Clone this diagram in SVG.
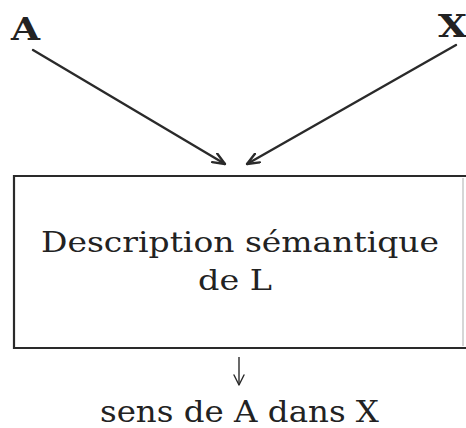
<svg xmlns="http://www.w3.org/2000/svg" width="466" height="428" viewBox="0 0 466 428">
<style>
.t{font-family:"DejaVu Serif","Liberation Serif",serif;fill:#222}
.b{font-weight:bold}
.c{stroke:#2a2a2a;stroke-width:2.4;fill:none;stroke-linecap:round}
.box{stroke:#2a2a2a;stroke-width:2.2;fill:none}
</style>
<defs>
<marker id="ah" viewBox="0 0 14 12" refX="13" refY="6" markerWidth="14" markerHeight="12" markerUnits="userSpaceOnUse" orient="auto">
<path d="M1,1 L13,6 L1,11" fill="none" stroke="#2a2a2a" stroke-width="2.4" stroke-linecap="round" stroke-linejoin="round"/>
</marker>
<marker id="ahs" viewBox="0 0 12 12" refX="11" refY="6" markerWidth="12" markerHeight="12" markerUnits="userSpaceOnUse" orient="auto">
<path d="M1,1 L11,6 L1,11" fill="none" stroke="#2a2a2a" stroke-width="1.4" stroke-linecap="round" stroke-linejoin="round"/>
</marker>
</defs>
<rect width="466" height="428" fill="#fff"/>
<g id="nodeA"><text class="t b" x="11" y="40" font-size="31" textLength="29" lengthAdjust="spacingAndGlyphs">A</text></g>
<g id="nodeX"><text class="t b" x="438" y="37" font-size="31" textLength="29" lengthAdjust="spacingAndGlyphs">X</text></g>
<g id="nodeDesc">
<path class="box" d="M466,176 L14,176 L14,348 L466,348"/>
<path d="M463,178 L463,346" stroke="#bbb" stroke-width="1.2" fill="none"/>
<text class="t" x="41" y="252" font-size="28" textLength="398" lengthAdjust="spacingAndGlyphs">Description sémantique</text>
<text class="t" x="198" y="290" font-size="28" textLength="74" lengthAdjust="spacingAndGlyphs">de L</text>
</g>
<g id="nodeSens"><text class="t" x="100" y="422" font-size="30" textLength="279" lengthAdjust="spacingAndGlyphs">sens de A dans X</text></g>
<g id="connectors">
<line class="c" x1="33" y1="50" x2="225" y2="164" marker-end="url(#ah)"/>
<line class="c" x1="456" y1="45" x2="247" y2="164" marker-end="url(#ah)"/>
<line x1="239" y1="357" x2="239" y2="385" stroke="#2a2a2a" stroke-width="1.4" marker-end="url(#ahs)"/>
</g>
</svg>
